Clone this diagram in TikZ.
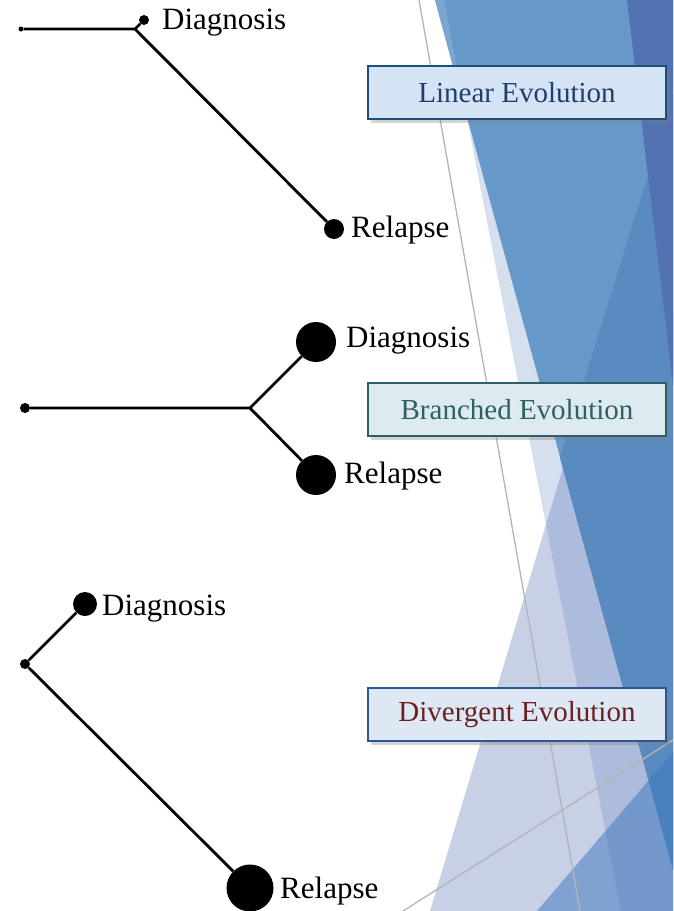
\documentclass[tikz,border=0pt]{standalone}
\usepackage{fontspec}
\setmainfont{Liberation Serif}
\usetikzlibrary{positioning,shadows}
\definecolor{facetblue}{HTML}{6699C9}
\definecolor{facetsky}{HTML}{7BA6CF}
\definecolor{facetmid}{HTML}{5A8BC0}
\definecolor{facetpurple}{HTML}{5272B2}
\definecolor{facetlav}{HTML}{C8D0E6}
\definecolor{facetpale}{HTML}{6688C2}
\definecolor{facetlight}{HTML}{3A76BE}
\definecolor{facetgrey}{HTML}{B4B4B4}
\definecolor{linfill}{HTML}{D5E4F5}
\definecolor{linedge}{HTML}{1F4E79}
\definecolor{lintext}{HTML}{1F3E6A}
\definecolor{brfill}{HTML}{DDEBF0}
\definecolor{bredge}{HTML}{2F5D6A}
\definecolor{brtext}{HTML}{2F5F5F}
\definecolor{dvfill}{HTML}{DEE8F4}
\definecolor{dvedge}{HTML}{2F5592}
\definecolor{dvtext}{HTML}{6A2020}

\begin{document}
\begin{tikzpicture}[x=1pt,y=-1pt, every node/.style={font=\fontsize{29}{34}\selectfont},
    dot/.style={circle,fill=black,inner sep=0pt},
    branch/.style={line width=2.8pt},
    lbl/.style={anchor=base west,inner sep=0pt,font=\fontsize{31}{36}\selectfont},
    greyline/.style={facetgrey,line width=1.3pt},
    evobox/.style={draw,line width=1.8pt,minimum width=298pt,minimum height=53pt,inner sep=0pt,
      drop shadow={shadow xshift=3pt,shadow yshift=-4pt,opacity=.35}}]
    \useasboundingbox (0,0) rectangle (673,911);
    \fill[facetlav] (430,911) -- (610,311) -- (673,311) -- (673,911) -- cycle;
    \fill[facetpale,opacity=.27] (444,0) -- (673,0) -- (673,911) -- (621,911) -- cycle;
    \fill[facetblue] (435,0) -- (673,0) -- (673,870) -- cycle;
    \fill[facetsky] (435,0) -- (444,0) -- (466,114) -- cycle;
    \fill[facetmid] (673,95) -- (560,458) -- (673,870) -- cycle;
    \fill[facetpurple] (627,0) -- (673,0) -- (673,385) -- cycle;
    \fill[facetlight,opacity=.5] (537,911) -- (673,752) -- (673,911) -- cycle;
    \draw[greyline] (419,0) -- (580,911);
    \draw[greyline] (403,911) -- (673,740);

    \node[dot,minimum size=5pt] (root1) at (21,29) {};
    \coordinate (fork1) at (135,29);
    \node[dot,minimum size=10pt] (diag1) at (144,20) {};
    \node[dot,minimum size=20pt] (rel1) at (334,229) {};
    \draw[branch] (root1) -- (fork1) -- (diag1);
    \draw[branch] (fork1) -- (rel1);
    \node[lbl] (diag1txt) at (162,29) {Diagnosis};
    \node[lbl] (rel1txt) at (351,237) {Relapse};

    \node[dot,minimum size=10pt] (root2) at (25,408) {};
    \coordinate (fork2) at (250,408);
    \node[dot,minimum size=40pt] (diag2) at (316,342) {};
    \node[dot,minimum size=40pt] (rel2) at (316,475) {};
    \draw[branch] (root2) -- (fork2) -- (diag2);
    \draw[branch] (fork2) -- (rel2);
    \node[lbl] (diag2txt) at (346,347) {Diagnosis};
    \node[lbl] (rel2txt) at (344,483) {Relapse};

    \node[dot,minimum size=10pt] (root3) at (25,664) {};
    \node[dot,minimum size=24pt] (diag3) at (85,604) {};
    \node[dot,minimum size=47pt] (rel3) at (250,888) {};
    \draw[branch] (diag3) -- (root3) -- (rel3);
    \node[lbl] (diag3txt) at (102,615) {Diagnosis};
    \node[lbl] (rel3txt) at (280,898) {Relapse};

    \node[evobox,fill=linfill,draw=linedge,text=lintext] (linear) at (517,92.5) {Linear Evolution};
    \node[evobox,fill=brfill,draw=bredge,text=brtext] (branched) at (517,409.5) {Branched Evolution};
    \node[evobox,fill=dvfill,draw=dvedge,text=dvtext] (divergent) at (517,714.5) {Divergent Evolution};
\end{tikzpicture}
\end{document}
